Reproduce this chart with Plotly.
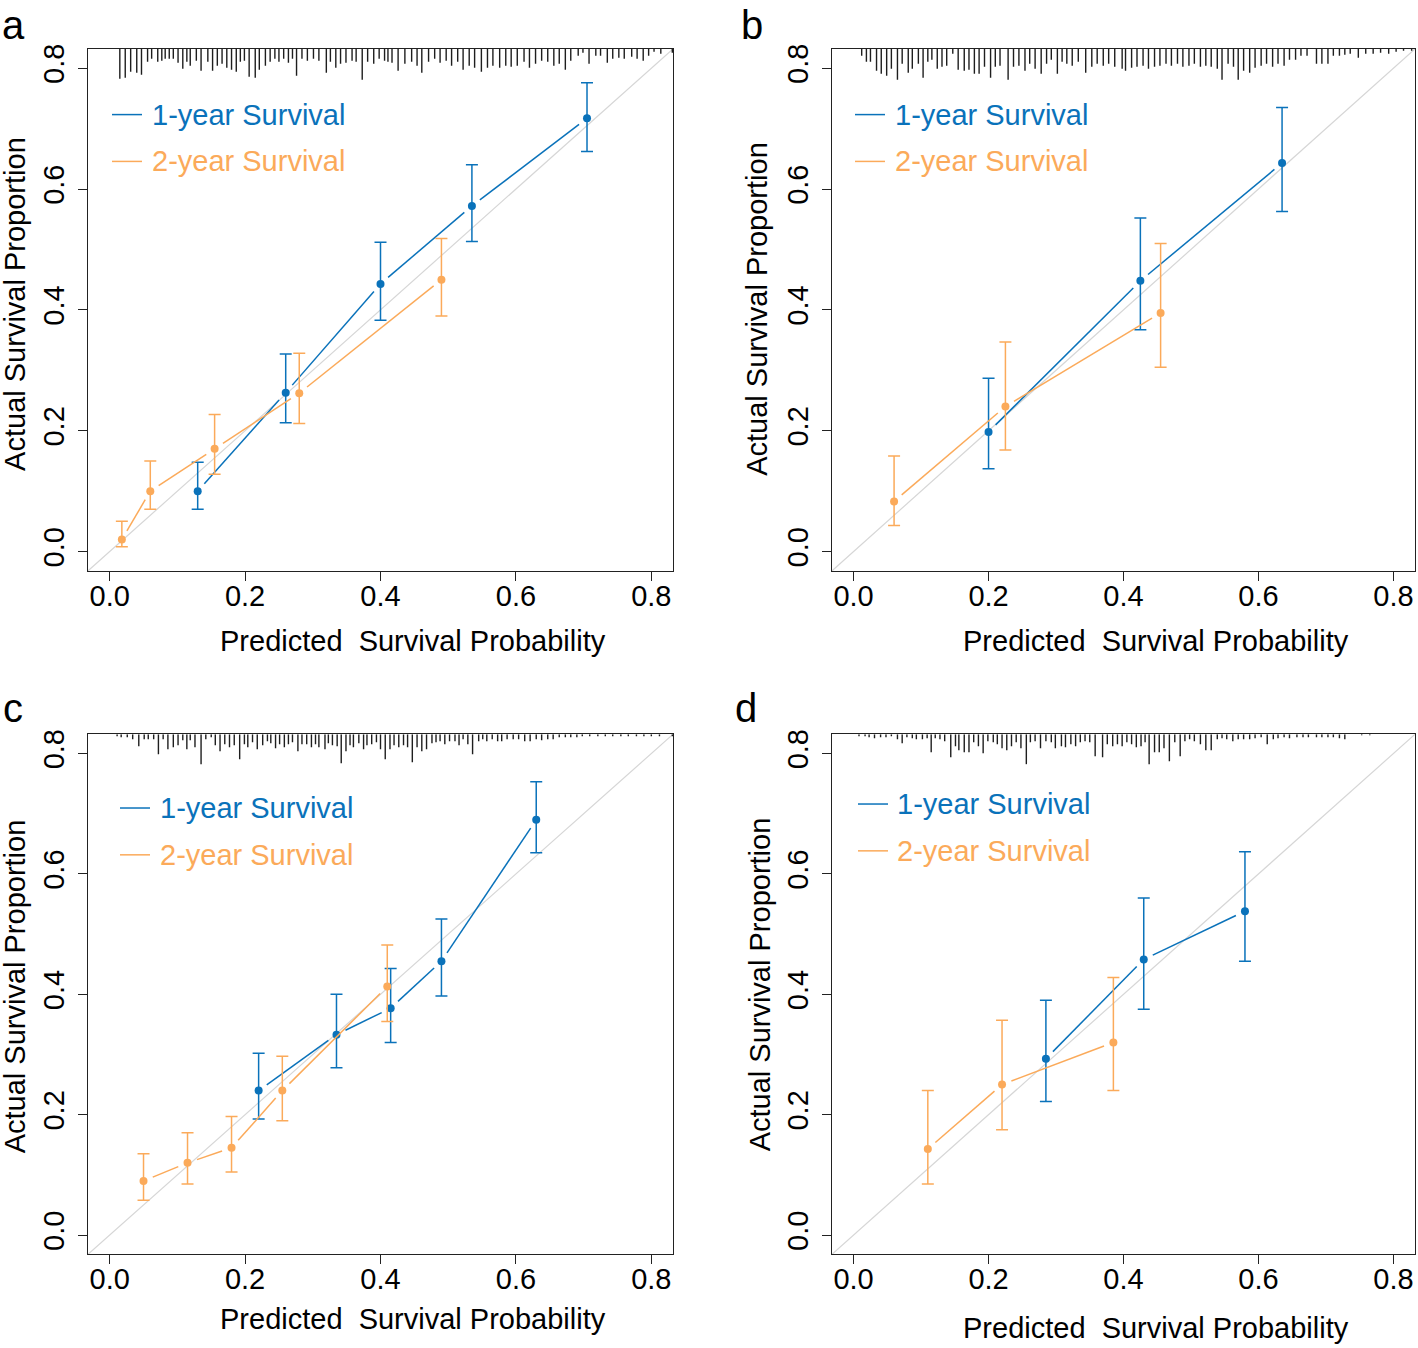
import plotly.graph_objects as go

W, H = 1418, 1348
AX_RANGE = [-0.032, 0.832]
TICKS = [0.0, 0.2, 0.4, 0.6, 0.8]
TICK_TEXT = ["0.0", "0.2", "0.4", "0.6", "0.8"]
BLUE = "#0A72BA"
ORANGE = "#FBAA5A"
FONT = "Liberation Sans, Arial, Helvetica, sans-serif"

SERIES_NAMES = ["1-year Survival", "2-year Survival"]
PANEL_LABELS = ["a", "b", "c", "d"]

# ---------------- data: panel a ----------------
a1_pred = [0.13, 0.26, 0.40, 0.535, 0.705]
a1_obs = [0.100, 0.263, 0.443, 0.572, 0.717]
a1_lo = [0.070, 0.213, 0.383, 0.513, 0.662]
a1_hi = [0.148, 0.327, 0.512, 0.640, 0.776]
a2_pred = [0.018, 0.060, 0.155, 0.280, 0.490]
a2_obs = [0.020, 0.100, 0.170, 0.262, 0.450]
a2_lo = [0.008, 0.070, 0.128, 0.212, 0.390]
a2_hi = [0.050, 0.150, 0.227, 0.328, 0.518]

# ---------------- data: panel b ----------------
b1_pred = [0.200, 0.425, 0.635]
b1_obs = [0.198, 0.448, 0.643]
b1_lo = [0.137, 0.367, 0.563]
b1_hi = [0.287, 0.552, 0.735]
b2_pred = [0.060, 0.225, 0.455]
b2_obs = [0.083, 0.240, 0.395]
b2_lo = [0.043, 0.168, 0.305]
b2_hi = [0.158, 0.347, 0.510]

# ---------------- data: panel c ----------------
c1_pred = [0.220, 0.335, 0.415, 0.490, 0.630]
c1_obs = [0.240, 0.333, 0.377, 0.455, 0.690]
c1_lo = [0.193, 0.278, 0.320, 0.397, 0.635]
c1_hi = [0.302, 0.400, 0.443, 0.525, 0.753]
c2_pred = [0.050, 0.115, 0.180, 0.255, 0.410]
c2_obs = [0.090, 0.120, 0.145, 0.240, 0.413]
c2_lo = [0.058, 0.085, 0.105, 0.190, 0.355]
c2_hi = [0.135, 0.170, 0.197, 0.297, 0.482]

# ---------------- data: panel d ----------------
d1_pred = [0.285, 0.430, 0.580]
d1_obs = [0.293, 0.458, 0.538]
d1_lo = [0.222, 0.375, 0.455]
d1_hi = [0.390, 0.560, 0.637]
d2_pred = [0.110, 0.220, 0.385]
d2_obs = [0.143, 0.250, 0.320]
d2_lo = [0.085, 0.175, 0.240]
d2_hi = [0.240, 0.357, 0.428]

# ---------------- rug (distribution of predicted values) ----------------
rug_a_x = [0.015, 0.023, 0.031, 0.040, 0.047, 0.056, 0.062, 0.071, 0.077, 0.082,
           0.088, 0.094, 0.101, 0.108, 0.114, 0.119, 0.128, 0.135, 0.145, 0.152,
           0.159, 0.166, 0.173, 0.180, 0.187, 0.193, 0.199, 0.206, 0.215, 0.221,
           0.230, 0.237, 0.244, 0.250, 0.257, 0.264, 0.270, 0.276, 0.284, 0.292,
           0.301, 0.309, 0.320, 0.326, 0.334, 0.341, 0.349, 0.358, 0.364, 0.373,
           0.381, 0.390, 0.398, 0.406, 0.411, 0.417, 0.426, 0.436, 0.446, 0.454,
           0.461, 0.471, 0.480, 0.488, 0.497, 0.505, 0.514, 0.522, 0.531, 0.539,
           0.549, 0.558, 0.566, 0.576, 0.585, 0.593, 0.602, 0.612, 0.620, 0.629,
           0.638, 0.647, 0.656, 0.664, 0.673, 0.681, 0.692, 0.699, 0.708, 0.718,
           0.725, 0.735, 0.743, 0.752, 0.760, 0.771, 0.779, 0.788, 0.796, 0.804,
           0.814, 0.831]
rug_a_n = [30, 29, 23, 24, 26, 13, 10, 13, 12, 10,
           10, 10, 14, 20, 13, 17, 12, 22, 13, 22,
           17, 15, 19, 21, 23, 13, 12, 28, 29, 21,
           17, 13, 10, 13, 10, 14, 10, 27, 10, 12,
           10, 12, 24, 13, 19, 15, 14, 12, 13, 31,
           13, 15, 10, 12, 13, 14, 22, 15, 13, 17,
           24, 13, 10, 14, 12, 17, 13, 21, 17, 19,
           23, 19, 17, 19, 17, 18, 17, 13, 19, 15,
           12, 13, 17, 15, 21, 12, 7, 4, 15, 7,
           7, 14, 10, 9, 10, 8, 10, 12, 7, 3,
           5, 4]

rug_b_x = [0.012, 0.019, 0.025, 0.034, 0.041, 0.049, 0.056, 0.065, 0.072, 0.081,
           0.087, 0.096, 0.103, 0.110, 0.116, 0.124, 0.131, 0.138, 0.147, 0.155,
           0.164, 0.171, 0.179, 0.186, 0.194, 0.203, 0.210, 0.217, 0.229, 0.237,
           0.245, 0.254, 0.261, 0.269, 0.278, 0.286, 0.293, 0.302, 0.309, 0.316,
           0.324, 0.333, 0.344, 0.353, 0.361, 0.370, 0.378, 0.387, 0.398, 0.403,
           0.412, 0.420, 0.429, 0.437, 0.446, 0.454, 0.463, 0.471, 0.480, 0.488,
           0.497, 0.505, 0.514, 0.522, 0.530, 0.539, 0.546, 0.555, 0.563, 0.570,
           0.578, 0.587, 0.595, 0.604, 0.612, 0.621, 0.629, 0.638, 0.646, 0.655,
           0.663, 0.672, 0.686, 0.694, 0.703, 0.711, 0.720, 0.728, 0.736, 0.748,
           0.759, 0.770, 0.781, 0.793, 0.804, 0.815, 0.827]
rug_b_n = [7, 13, 13, 22, 25, 27, 20, 31, 15, 24,
           20, 15, 29, 13, 11, 20, 18, 17, 5, 21,
           22, 21, 25, 25, 18, 29, 18, 17, 31, 18,
           17, 22, 15, 20, 25, 15, 11, 25, 13, 15,
           17, 13, 24, 18, 15, 17, 15, 18, 20, 22,
           19, 18, 17, 20, 18, 17, 15, 17, 15, 18,
           17, 15, 18, 17, 18, 20, 31, 15, 18, 31,
           22, 24, 19, 17, 15, 18, 15, 17, 11, 11,
           7, 7, 15, 15, 15, 7, 7, 6, 5, 9,
           5, 5, 4, 5, 3, 2, 2]

rug_c_x = [0.011, 0.017, 0.026, 0.034, 0.043, 0.051, 0.057, 0.065, 0.072, 0.079,
           0.086, 0.094, 0.101, 0.108, 0.114, 0.119, 0.126, 0.135, 0.142, 0.150,
           0.156, 0.163, 0.170, 0.177, 0.184, 0.192, 0.199, 0.204, 0.211, 0.218,
           0.226, 0.233, 0.238, 0.245, 0.251, 0.258, 0.264, 0.270, 0.278, 0.284,
           0.291, 0.298, 0.304, 0.309, 0.318, 0.323, 0.329, 0.336, 0.342, 0.349,
           0.355, 0.360, 0.368, 0.375, 0.380, 0.387, 0.394, 0.400, 0.407, 0.414,
           0.420, 0.427, 0.434, 0.440, 0.447, 0.454, 0.461, 0.468, 0.476, 0.482,
           0.488, 0.495, 0.502, 0.510, 0.516, 0.522, 0.529, 0.536, 0.545, 0.551,
           0.557, 0.565, 0.573, 0.579, 0.587, 0.596, 0.604, 0.613, 0.621, 0.630,
           0.638, 0.647, 0.655, 0.664, 0.673, 0.681, 0.690, 0.698, 0.709, 0.721,
           0.732, 0.743, 0.755, 0.766, 0.778, 0.789, 0.800, 0.812, 0.831]
rug_c_n = [2, 3, 3, 5, 12, 5, 5, 5, 20, 5,
           15, 13, 11, 6, 15, 6, 13, 30, 5, 3,
           11, 17, 10, 13, 11, 25, 10, 13, 8, 15,
           11, 7, 9, 14, 10, 13, 10, 8, 17, 10,
           10, 13, 10, 13, 15, 9, 11, 12, 29, 17,
           11, 13, 9, 15, 11, 10, 8, 15, 25, 15,
           11, 13, 11, 13, 28, 13, 17, 15, 9, 8,
           7, 10, 7, 7, 11, 5, 10, 20, 7, 5,
           7, 5, 7, 7, 5, 5, 5, 7, 7, 5,
           6, 5, 5, 3, 3, 3, 3, 2, 2, 2,
           2, 2, 2, 2, 2, 2, 2, 2, 2]

rug_d_x = [0.008, 0.017, 0.023, 0.031, 0.040, 0.048, 0.056, 0.065, 0.072, 0.079,
           0.087, 0.093, 0.102, 0.109, 0.115, 0.121, 0.128, 0.135, 0.144, 0.151,
           0.156, 0.164, 0.171, 0.178, 0.185, 0.192, 0.199, 0.207, 0.213, 0.220,
           0.227, 0.234, 0.241, 0.248, 0.256, 0.262, 0.269, 0.277, 0.285, 0.293,
           0.299, 0.308, 0.314, 0.322, 0.329, 0.336, 0.343, 0.350, 0.358, 0.369,
           0.376, 0.384, 0.391, 0.398, 0.405, 0.412, 0.419, 0.426, 0.432, 0.438,
           0.446, 0.453, 0.460, 0.468, 0.476, 0.484, 0.491, 0.498, 0.505, 0.514,
           0.522, 0.530, 0.539, 0.546, 0.553, 0.562, 0.570, 0.578, 0.587, 0.595,
           0.604, 0.613, 0.622, 0.629, 0.638, 0.646, 0.657, 0.666, 0.674, 0.686,
           0.694, 0.703, 0.711, 0.720, 0.728, 0.753, 0.765]
rug_d_n = [2, 2, 3, 4, 3, 3, 2, 5, 9, 3,
           4, 5, 5, 4, 18, 4, 5, 7, 23, 12,
           16, 18, 18, 8, 12, 19, 7, 8, 10, 14,
           16, 12, 8, 14, 30, 8, 7, 14, 7, 8,
           14, 12, 13, 10, 12, 8, 7, 8, 22, 23,
           10, 12, 10, 12, 8, 10, 13, 12, 8, 30,
           18, 18, 14, 27, 8, 22, 7, 5, 7, 10,
           16, 16, 5, 4, 5, 7, 5, 5, 5, 4,
           3, 10, 5, 4, 3, 4, 3, 3, 3, 3,
           3, 3, 3, 4, 5, 1, 1]

panels = [
    dict(s1=(a1_pred, a1_obs, a1_lo, a1_hi), s2=(a2_pred, a2_obs, a2_lo, a2_hi),
         rug=(rug_a_x, rug_a_n)),
    dict(s1=(b1_pred, b1_obs, b1_lo, b1_hi), s2=(b2_pred, b2_obs, b2_lo, b2_hi),
         rug=(rug_b_x, rug_b_n)),
    dict(s1=(c1_pred, c1_obs, c1_lo, c1_hi), s2=(c2_pred, c2_obs, c2_lo, c2_hi),
         rug=(rug_c_x, rug_c_n)),
    dict(s1=(d1_pred, d1_obs, d1_lo, d1_hi), s2=(d2_pred, d2_obs, d2_lo, d2_hi),
         rug=(rug_d_x, rug_d_n)),
]

# ---------------- layout geometry (pixels) ----------------
BOXES = [(88, 673, 44, 568), (832, 1415, 44, 568), (88, 673, 732, 1254), (832, 1415, 732, 1254)]
LEGEND_POS = [(24, 54, 62, 66, 113), (23, 53, 61, 66, 113), (32, 62, 70, 74, 121), (26, 56, 63, 70, 117)]
XTITLE_POS = [(413, 638), (1156, 638), (413, 1319), (1156, 1328)]
YTITLE_POS = [(15, 300), (757, 305), (15, 985), (760, 983)]
LETTER_POS = [(13, 20), (752, 20), (13, 706), (746, 706)]

GAP_PX = 10
RANGE_SPAN = AX_RANGE[1] - AX_RANGE[0]

fig = go.Figure()
layout = dict(
    width=W, height=H, paper_bgcolor="white", plot_bgcolor="white",
    margin=dict(l=0, r=0, t=0, b=0), showlegend=False,
    font=dict(family=FONT, size=29, color="black"),
)
annotations = []
shapes = []

for i, (p, box) in enumerate(zip(panels, BOXES)):
    k = "" if i == 0 else str(i + 1)
    xa, ya = "x" + k, "y" + k
    x0, x1, y0, y1 = box
    xppu = (x1 - x0) / RANGE_SPAN
    yppu = (y1 - y0) / RANGE_SPAN
    common = dict(range=AX_RANGE, tickvals=TICKS, ticktext=TICK_TEXT, showgrid=False,
                  zeroline=False, showline=True, mirror=True, linecolor="#222",
                  linewidth=1.2, ticks="outside", ticklen=9, tickwidth=1.2,
                  tickcolor="#222", tickfont=dict(size=29, family=FONT))
    layout["xaxis" + k] = dict(domain=[x0 / W, x1 / W], anchor=ya,
                               ticklabelstandoff=-10, **common)
    layout["yaxis" + k] = dict(domain=[1 - y1 / H, 1 - y0 / H], anchor=xa,
                               tickangle=-90, ticklabelstandoff=2, **common)

    # diagonal reference line
    fig.add_trace(go.Scatter(x=AX_RANGE, y=AX_RANGE, mode="lines", xaxis=xa, yaxis=ya,
                             line=dict(color="#D6D6D6", width=1.2), hoverinfo="skip"))

    # rug of predicted values (spikes hanging from the top frame)
    rx, rn = p["rug"]
    sx, sy = [], []
    for v, n in zip(rx, rn):
        sx += [v, v, None]
        sy += [AX_RANGE[1], AX_RANGE[1] - n / yppu, None]
    fig.add_trace(go.Scatter(x=sx, y=sy, mode="lines", xaxis=xa, yaxis=ya,
                             line=dict(color="#1E1E1E", width=1.4), hoverinfo="skip"))

    for key, col in (("s1", BLUE), ("s2", ORANGE)):
        pred, obs, lo, hi = p[key]
        # connecting segments with gaps around the points (type = "b")
        lx, ly = [], []
        for j in range(len(pred) - 1):
            dxp = (pred[j + 1] - pred[j]) * xppu
            dyp = (obs[j + 1] - obs[j]) * yppu
            L = (dxp ** 2 + dyp ** 2) ** 0.5
            if L <= 2 * GAP_PX:
                continue
            f = GAP_PX / L
            lx += [pred[j] + f * (pred[j + 1] - pred[j]), pred[j + 1] - f * (pred[j + 1] - pred[j]), None]
            ly += [obs[j] + f * (obs[j + 1] - obs[j]), obs[j + 1] - f * (obs[j + 1] - obs[j]), None]
        fig.add_trace(go.Scatter(x=lx, y=ly, mode="lines", xaxis=xa, yaxis=ya,
                                 line=dict(color=col, width=1.5), hoverinfo="skip"))
        fig.add_trace(go.Scatter(
            x=pred, y=obs, mode="markers", xaxis=xa, yaxis=ya,
            marker=dict(color=col, size=8),
            error_y=dict(type="data", symmetric=False,
                         array=[h - o for h, o in zip(hi, obs)],
                         arrayminus=[o - l for o, l in zip(obs, lo)],
                         color=col, thickness=1.5, width=6),
        ))

    # legend drawn R-style: coloured line + coloured text
    lxa, lxb, ltx, ly1, ly2 = LEGEND_POS[i]
    for name, col, ly_px in ((SERIES_NAMES[0], BLUE, ly1), (SERIES_NAMES[1], ORANGE, ly2)):
        yf = 1 - ly_px / (y1 - y0)
        shapes.append(dict(type="line", xref=xa + " domain", yref=ya + " domain",
                           x0=lxa / (x1 - x0), x1=lxb / (x1 - x0), y0=yf, y1=yf,
                           line=dict(color=col, width=1.5)))
        annotations.append(dict(text=name, xref=xa + " domain", yref=ya + " domain",
                                x=ltx / (x1 - x0), y=yf, xanchor="left", yanchor="middle",
                                showarrow=False, font=dict(size=29, color=col, family=FONT)))

    tx, ty = XTITLE_POS[i]
    annotations.append(dict(text="Predicted\u00a0 Survival Probability", xref="paper", yref="paper",
                            x=tx / W, y=1 - ty / H, xanchor="center", yanchor="middle",
                            showarrow=False, font=dict(size=29, family=FONT)))
    tx, ty = YTITLE_POS[i]
    annotations.append(dict(text="Actual Survival Proportion", xref="paper", yref="paper",
                            x=tx / W, y=1 - ty / H, xanchor="center", yanchor="middle",
                            textangle=-90, showarrow=False, font=dict(size=29, family=FONT)))
    tx, ty = LETTER_POS[i]
    annotations.append(dict(text=PANEL_LABELS[i], xref="paper", yref="paper",
                            x=tx / W, y=1 - ty / H, xanchor="center", yanchor="middle",
                            showarrow=False, font=dict(size=40, family=FONT)))

layout["annotations"] = annotations
layout["shapes"] = shapes
fig.update_layout(**layout)
fig.write_html(
    "out.html",
    config={"displayModeBar": False},
    post_script="document.body.style.margin='0px';document.body.style.overflow='hidden';",
)
